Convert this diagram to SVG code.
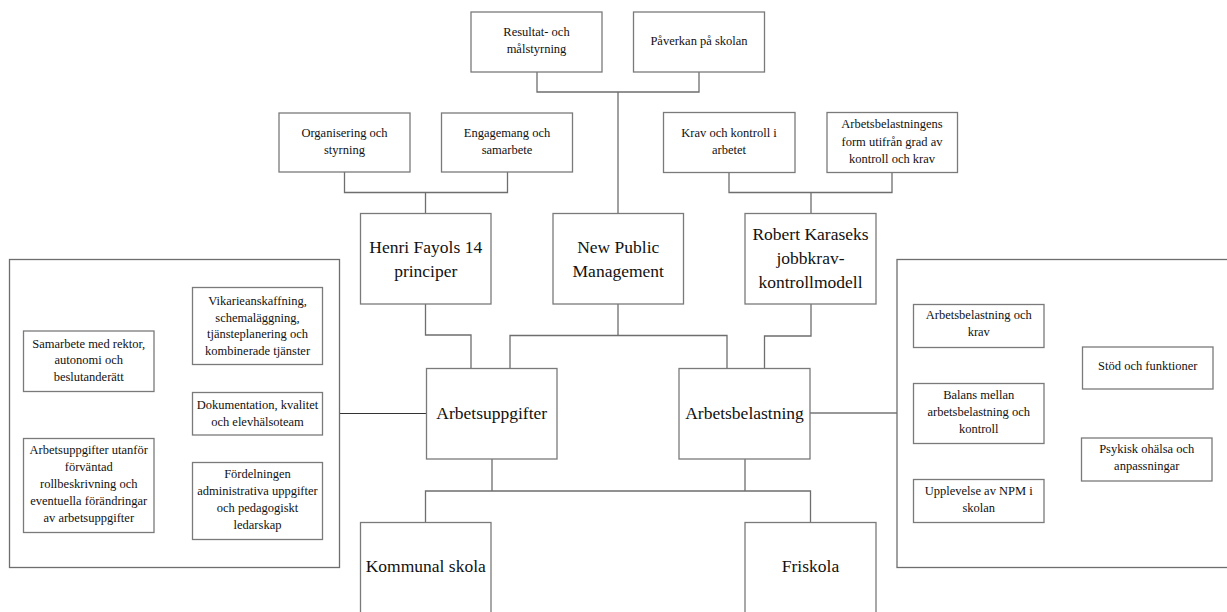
<svg xmlns="http://www.w3.org/2000/svg" width="1227" height="612" viewBox="0 0 1227 612">
<style>
  .box { fill: #ffffff; stroke: #7a7a7a; stroke-width: 1.3; }
  .frame { fill: none; stroke: #6e6e6e; stroke-width: 1.3; }
  .conn { fill: none; stroke: #6e6e6e; stroke-width: 1.3; }
  .dark { fill: none; stroke: #333333; stroke-width: 1.2; }
  text { font-family: "Liberation Serif", "Times New Roman", serif; fill: #111111; text-anchor: middle; }
  .s { font-size: 12.5px; }
  .b { font-size: 17.5px; }
</style>
<rect x="0" y="0" width="1227" height="612" fill="#ffffff"/>

<g id="connectors">
  <path class="conn" d="M537 72 V92 H699 V72 M618 92 V213.5"/>
  <path class="conn" d="M344.5 172 V192.5 H507.5 V172 M425.5 192.5 V213.5"/>
  <path class="conn" d="M729 172.5 V192.5 H892 V172.5 M811 192.5 V213.5"/>
  <path class="conn" d="M425.5 304 V335 H471 V368.5"/>
  <path class="conn" d="M618 304 V335.5 M510 368.5 V335.5 H727 V368.5"/>
  <path class="conn" d="M811 304 V336 H764.5 V368.5"/>
  <path class="dark" d="M426.5 413.5 H339.5"/>
  <path class="dark" d="M810 413 H897"/>
  <path class="conn" d="M492 459 V491 M745 459 V491 M425.5 522.5 V491 H810.5 V522.5"/>
</g>

<g id="resultat">
  <rect class="box" x="471" y="12" width="131" height="60"/>
  <text class="s" x="536.5" y="36">Resultat- och</text>
  <text class="s" x="536.5" y="53">målstyrning</text>
</g>
<g id="paverkan">
  <rect class="box" x="633.5" y="12" width="131" height="60"/>
  <text class="s" x="699" y="45">Påverkan på skolan</text>
</g>
<g id="organisering">
  <rect class="box" x="279" y="113" width="131" height="59"/>
  <text class="s" x="344.5" y="137">Organisering och</text>
  <text class="s" x="344.5" y="154">styrning</text>
</g>
<g id="engagemang">
  <rect class="box" x="441.5" y="113" width="131" height="59"/>
  <text class="s" x="507" y="137">Engagemang och</text>
  <text class="s" x="507" y="154">samarbete</text>
</g>
<g id="krav">
  <rect class="box" x="663.5" y="112.5" width="131.5" height="60"/>
  <text class="s" x="729" y="137">Krav och kontroll i</text>
  <text class="s" x="729" y="154">arbetet</text>
</g>
<g id="arbetsbelastningens">
  <rect class="box" x="827" y="112.5" width="130.5" height="60"/>
  <text class="s" x="892" y="128">Arbetsbelastningens</text>
  <text class="s" x="892" y="145.5">form utifrån grad av</text>
  <text class="s" x="892" y="163">kontroll och krav</text>
</g>

<g id="henri">
  <rect class="box" x="360.5" y="213.5" width="130.5" height="90.5"/>
  <text class="b" x="425.75" y="252.5">Henri Fayols 14</text>
  <text class="b" x="425.75" y="276.5">principer</text>
</g>
<g id="npm">
  <rect class="box" x="553" y="213.5" width="130.5" height="90.5"/>
  <text class="b" x="618.25" y="252.5">New Public</text>
  <text class="b" x="618.25" y="276.5">Management</text>
</g>
<g id="robert">
  <rect class="box" x="745" y="213.5" width="131" height="90.5"/>
  <text class="b" x="810.5" y="240">Robert Karaseks</text>
  <text class="b" x="810.5" y="264">jobbkrav-</text>
  <text class="b" x="810.5" y="288">kontrollmodell</text>
</g>

<g id="arbetsuppgifter">
  <rect class="box" x="426.5" y="368.5" width="130.5" height="90.5"/>
  <text class="b" x="491.75" y="419">Arbetsuppgifter</text>
</g>
<g id="arbetsbelastning">
  <rect class="box" x="679" y="368.5" width="131" height="90.5"/>
  <text class="b" x="744.5" y="419">Arbetsbelastning</text>
</g>
<g id="kommunal">
  <rect class="box" x="360.5" y="522.5" width="130.5" height="91"/>
  <text class="b" x="425.75" y="571.5">Kommunal skola</text>
</g>
<g id="friskola">
  <rect class="box" x="745" y="522.5" width="131" height="91"/>
  <text class="b" x="810.5" y="571.5">Friskola</text>
</g>

<g id="left-group">
  <rect class="frame" x="9.5" y="259.5" width="330" height="308"/>
  <g id="vikarie">
    <rect class="box" x="192.5" y="287.5" width="130" height="77"/>
    <text class="s" x="257.5" y="305">Vikarieanskaffning,</text>
    <text class="s" x="257.5" y="321.5">schemaläggning,</text>
    <text class="s" x="257.5" y="338">tjänsteplanering och</text>
    <text class="s" x="257.5" y="354.5">kombinerade tjänster</text>
  </g>
  <g id="samarbete">
    <rect class="box" x="23.5" y="331" width="130.5" height="60.5"/>
    <text class="s" x="88.75" y="347.5">Samarbete med rektor,</text>
    <text class="s" x="88.75" y="364">autonomi och</text>
    <text class="s" x="88.75" y="380.5">beslutanderätt</text>
  </g>
  <g id="dokumentation">
    <rect class="box" x="192.5" y="392.5" width="130" height="42.5"/>
    <text class="s" x="257.5" y="409">Dokumentation, kvalitet</text>
    <text class="s" x="257.5" y="425.5">och elevhälsoteam</text>
  </g>
  <g id="utanfor">
    <rect class="box" x="23.5" y="438.5" width="130.5" height="94"/>
    <text class="s" x="88.75" y="454">Arbetsuppgifter utanför</text>
    <text class="s" x="88.75" y="471">förväntad</text>
    <text class="s" x="88.75" y="488">rollbeskrivning och</text>
    <text class="s" x="88.75" y="505">eventuella förändringar</text>
    <text class="s" x="88.75" y="522">av arbetsuppgifter</text>
  </g>
  <g id="fordelningen">
    <rect class="box" x="192.5" y="462.5" width="130" height="77"/>
    <text class="s" x="257.5" y="478">Fördelningen</text>
    <text class="s" x="257.5" y="495">administrativa uppgifter</text>
    <text class="s" x="257.5" y="512">och pedagogiskt</text>
    <text class="s" x="257.5" y="529">ledarskap</text>
  </g>
</g>

<g id="right-group">
  <rect class="frame" x="897" y="259.5" width="340" height="308"/>
  <g id="arb-krav">
    <rect class="box" x="913.5" y="304.5" width="130.5" height="43"/>
    <text class="s" x="978.75" y="319">Arbetsbelastning och</text>
    <text class="s" x="978.75" y="336">krav</text>
  </g>
  <g id="balans">
    <rect class="box" x="913.5" y="383.5" width="130.5" height="60"/>
    <text class="s" x="978.75" y="399">Balans mellan</text>
    <text class="s" x="978.75" y="416">arbetsbelastning och</text>
    <text class="s" x="978.75" y="433">kontroll</text>
  </g>
  <g id="upplevelse">
    <rect class="box" x="913.5" y="479.5" width="130.5" height="43"/>
    <text class="s" x="978.75" y="494.5">Upplevelse av NPM i</text>
    <text class="s" x="978.75" y="511.5">skolan</text>
  </g>
  <g id="stod">
    <rect class="box" x="1082.5" y="347" width="130.5" height="42"/>
    <text class="s" x="1147.75" y="370">Stöd och funktioner</text>
  </g>
  <g id="psykisk">
    <rect class="box" x="1081.5" y="438" width="130.5" height="43"/>
    <text class="s" x="1146.75" y="453">Psykisk ohälsa och</text>
    <text class="s" x="1146.75" y="470">anpassningar</text>
  </g>
</g>
</svg>
